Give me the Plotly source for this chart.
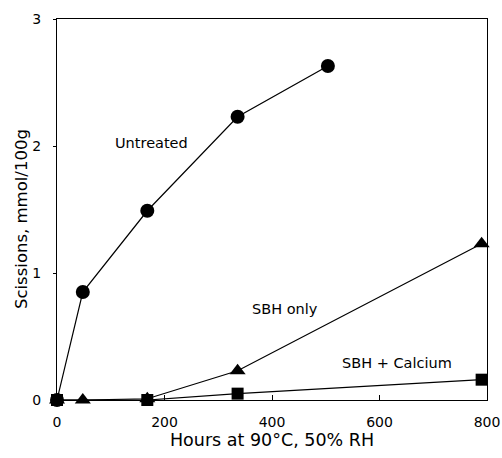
import plotly.graph_objects as go

hours_untreated = [0, 48, 168, 336, 504]
untreated = [0, 0.85, 1.49, 2.23, 2.63]
hours_sbh = [0, 48, 168, 336, 790]
sbh_only = [0, 0, 0.01, 0.23, 1.23]
hours_ca = [0, 168, 336, 790]
sbh_calcium = [0, 0, 0.05, 0.16]

x_ticks = [0, 200, 400, 600, 800]
y_ticks = [0, 1, 2, 3]

FONT = "DejaVu Sans"

fig = go.Figure()
line = dict(color="black", width=1.2)
fig.add_trace(go.Scatter(x=hours_untreated, y=untreated, mode="lines+markers",
                         line=line, marker=dict(symbol="circle", size=14, color="black"),
                         cliponaxis=False))
fig.add_trace(go.Scatter(x=hours_sbh, y=sbh_only, mode="lines+markers",
                         line=line, marker=dict(symbol="triangle-up", size=14, color="black"),
                         cliponaxis=False))
fig.add_trace(go.Scatter(x=hours_ca, y=sbh_calcium, mode="lines+markers",
                         line=line, marker=dict(symbol="square", size=12, color="black"),
                         cliponaxis=False))

annots = [("Untreated", 175, 2.02), ("SBH only", 425, 0.72), ("SBH + Calcium", 632, 0.29)]
for text, x, y in annots:
    fig.add_annotation(x=x, y=y, text=text, showarrow=False,
                       font=dict(family=FONT, size=14.5, color="black"))

# y-axis title (placed slightly below centre, as in the reference)
fig.add_annotation(xref="paper", yref="paper", x=0, y=0.475, xshift=-36,
                   text="Scissions, mmol/100g", textangle=-90, showarrow=False,
                   xanchor="center", yanchor="middle",
                   font=dict(family=FONT, size=16.5, color="black"))

fig.update_layout(
    width=502, height=458,
    margin=dict(l=57, r=15, t=19, b=58),
    paper_bgcolor="white", plot_bgcolor="white",
    showlegend=False,
    font=dict(family=FONT, size=14, color="black"),
)
fig.update_xaxes(range=[0, 800], tickvals=x_ticks, showgrid=False, zeroline=False,
                 showline=True, linecolor="black", linewidth=1.3, mirror=True,
                 ticks="inside", ticklen=5, tickcolor="black", ticklabelstandoff=9,
                 automargin=False,
                 tickfont=dict(family=FONT, size=14, color="black"),
                 title=dict(text="Hours at 90°C, 50% RH",
                            font=dict(family=FONT, size=17.5, color="black"), standoff=4))
fig.update_yaxes(range=[0, 3], tickvals=y_ticks, showgrid=False, zeroline=False,
                 showline=True, linecolor="black", linewidth=1.3, mirror=True,
                 ticks="outside", ticklen=3, tickcolor="black", ticklabelstandoff=9,
                 automargin=False,
                 tickfont=dict(family=FONT, size=14, color="black"))

fig.write_html("out.html")
